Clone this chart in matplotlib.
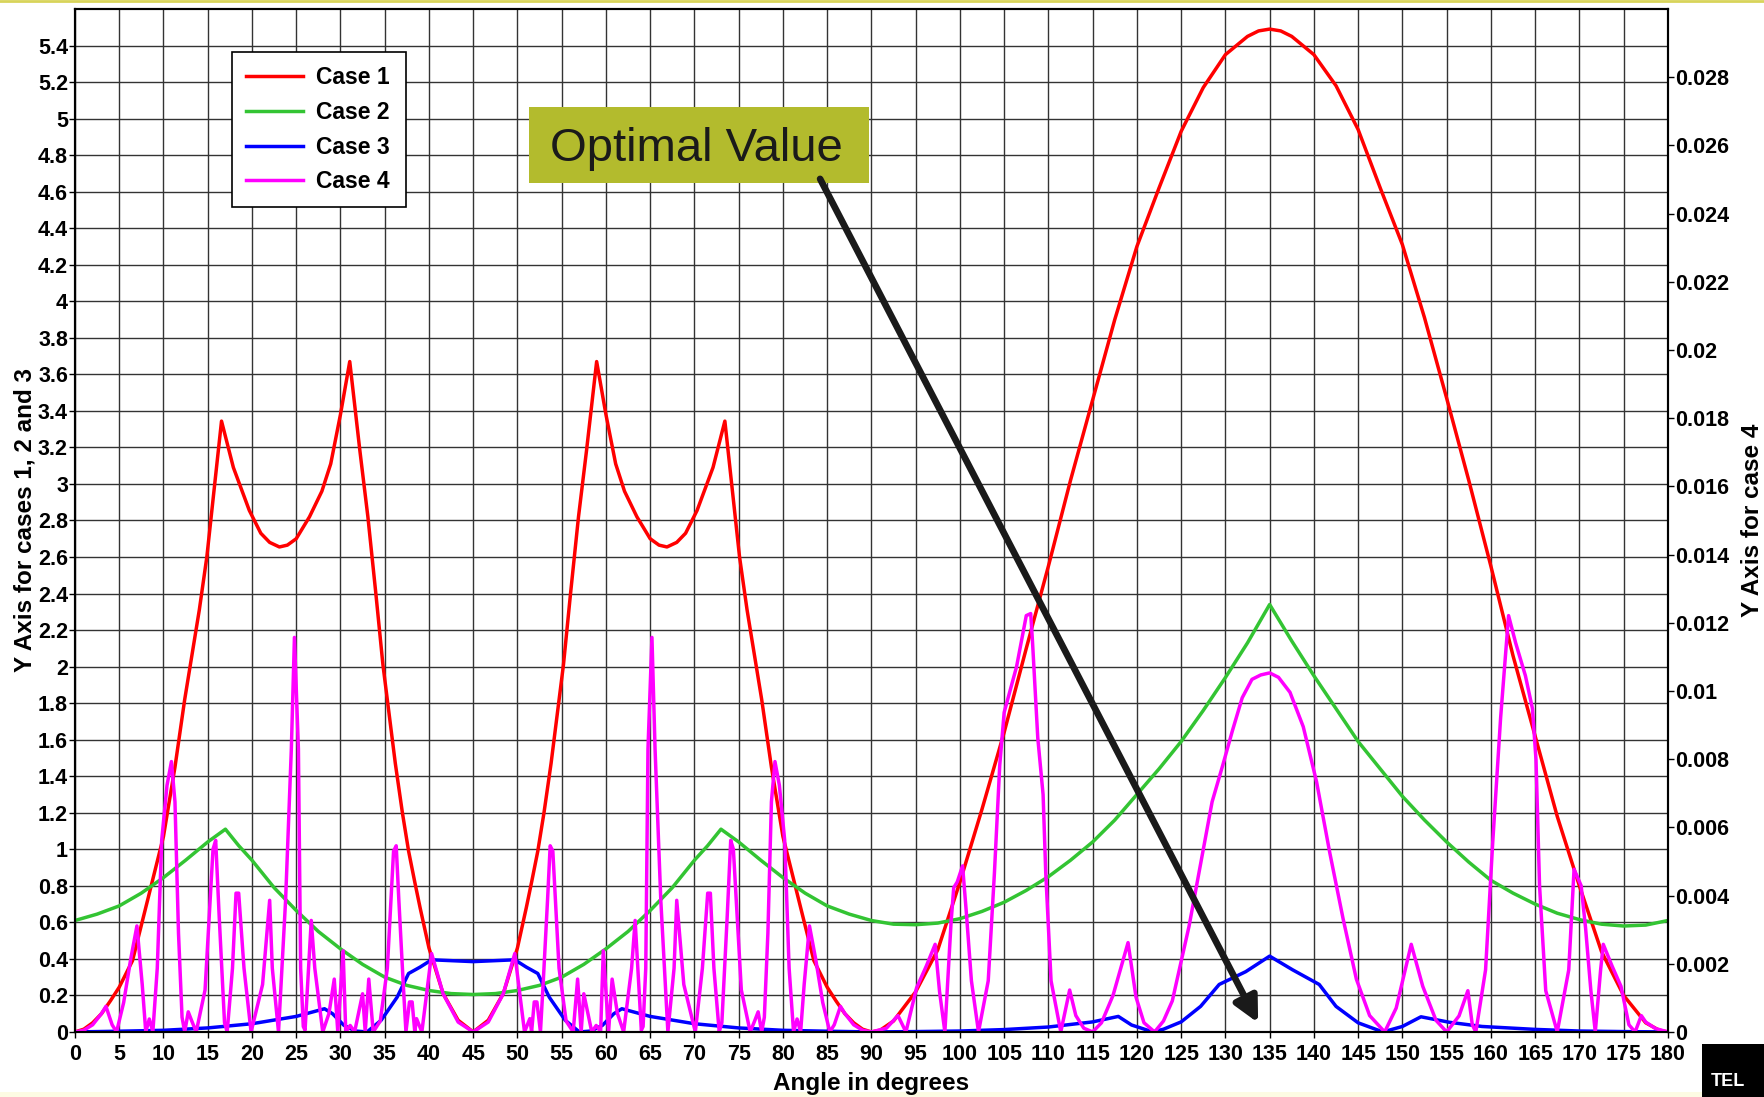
import numpy as np
import matplotlib
matplotlib.use("Agg")
import matplotlib.pyplot as plt
from matplotlib.patches import Rectangle
from matplotlib.lines import Line2D
from matplotlib.ticker import FuncFormatter

# values (angle in degrees, value)
case1_x = [0, 1, 2, 3, 4, 5, 6.5, 8.2, 10, 11.3, 12.4, 14.05, 14.9, 16.56, 17.9, 19.7, 21, 22, 23.1, 24, 25,
           26.5, 27.9, 28.9, 30, 31.05, 32.2, 33.1, 34, 34.8, 35.5, 36.2, 37.0, 37.7, 38.4, 39, 40, 41.6, 43.3, 45,
           46.7, 48.4, 50, 51, 51.6, 52.3, 53, 53.8, 54.5, 55.2, 56, 56.9, 57.8, 58.95, 60, 61.1, 62.1, 63.5, 65,
           66, 66.9, 68, 69, 70.3, 72.1, 73.44, 75.1, 75.95, 77.6, 78.7, 80, 81.8, 83.5, 85, 86, 87, 88, 89,
           90, 91, 92.5, 95, 97.5, 100, 102.5, 105, 107.5, 110, 112.5, 115, 117.5, 120, 122.5, 125, 127.5,
           130, 132.5, 133.75, 135, 136.25, 137.5, 140, 142.5, 145, 147.5, 150, 152.5, 155, 157.5, 160, 162.5,
           165, 167.5, 170, 172.5, 175, 177.5, 179, 180]
case1_y = [0, 0.015, 0.05, 0.1, 0.17, 0.245, 0.39, 0.72, 1.07, 1.45, 1.82, 2.31, 2.6, 3.344, 3.09, 2.855, 2.73, 2.68, 2.655, 2.665, 2.70,
           2.82, 2.96, 3.11, 3.38, 3.67, 3.18, 2.82, 2.40, 2.01, 1.74, 1.47, 1.2, 0.99, 0.82, 0.68, 0.46, 0.21, 0.064, 0,
           0.064, 0.21, 0.46, 0.68, 0.82, 0.99, 1.2, 1.47, 1.74, 2.01, 2.40, 2.82, 3.18, 3.67, 3.38, 3.11, 2.96, 2.82, 2.70,
           2.665, 2.655, 2.68, 2.73, 2.855, 3.09, 3.344, 2.6, 2.31, 1.82, 1.45, 1.07, 0.72, 0.39, 0.245, 0.17, 0.1, 0.05, 0.015,
           0, 0.01, 0.06, 0.22, 0.45, 0.82, 1.22, 1.64, 2.1, 2.55, 3.02, 3.46, 3.9, 4.3, 4.62, 4.93, 5.17,
           5.35, 5.45, 5.48, 5.49, 5.48, 5.45, 5.35, 5.18, 4.94, 4.62, 4.31, 3.91, 3.47, 3.02, 2.55, 2.06,
           1.62, 1.18, 0.8, 0.44, 0.2, 0.05, 0.01, 0]

case2_x = [0, 2.5, 5, 7.5, 10, 12.5, 15, 17, 18.5, 20, 22.5, 25, 27.5, 30, 32.5, 35, 37.5, 40, 42.5, 45,
           47.5, 50, 52.5, 55, 57.5, 60, 62.5, 65, 67.5, 70, 71.5, 73, 75, 77.5, 80, 82.5, 85, 87.5, 90,
           92.5, 95, 97.5, 100, 102.5, 105, 107.5, 110, 112.5, 115, 117.5, 120, 122.5, 125, 127.5, 130, 132.5,
           135, 137.5, 140, 142.5, 145, 147.5, 150, 152.5, 155, 157.5, 160, 162.5, 165, 167.5, 170, 172.5,
           175, 177.5, 180]
case2_y = [0.61, 0.645, 0.69, 0.76, 0.845, 0.94, 1.04, 1.11, 1.02, 0.94, 0.79, 0.665, 0.55, 0.455, 0.37, 0.30, 0.255, 0.227, 0.21, 0.205,
           0.21, 0.227, 0.255, 0.30, 0.37, 0.455, 0.55, 0.665, 0.79, 0.94, 1.02, 1.11, 1.04, 0.94, 0.845, 0.76, 0.69, 0.645, 0.61,
           0.59, 0.587, 0.596, 0.62, 0.66, 0.71, 0.775, 0.85, 0.94, 1.04, 1.16, 1.3, 1.44, 1.59, 1.76, 1.94, 2.13,
           2.34, 2.14, 1.95, 1.77, 1.59, 1.44, 1.29, 1.16, 1.04, 0.93, 0.83, 0.76, 0.70, 0.65, 0.615, 0.59,
           0.58, 0.585, 0.61]

case3_x = [0, 5, 10, 15, 20, 25, 28.2, 29.1, 30.4, 31.7, 33, 34.6, 36.4, 37.7, 39, 40.3, 45, 49.7, 51, 52.3,
           53.6, 55.4, 57, 58.3, 59.6, 60.9, 61.8, 65, 70, 75, 80, 85, 90, 95, 100, 105, 110, 115, 117.9,
           119.4, 121.8, 123, 125, 127.2, 129.3, 132.3, 135, 137.6, 140.6, 142.5, 145, 147.8, 150, 152.1,
           155.3, 159, 165, 170, 175, 180]
case3_y = [0, 0.004, 0.009, 0.022, 0.045, 0.085, 0.127, 0.10, 0.036, 0.005, 0, 0.064, 0.19, 0.32, 0.355, 0.395, 0.385, 0.395, 0.355, 0.32,
           0.19, 0.064, 0, 0.005, 0.036, 0.10, 0.127, 0.085, 0.045, 0.022, 0.009, 0.004, 0, 0.002, 0.005, 0.013, 0.027, 0.055, 0.085,
           0.038, 0, 0.015, 0.055, 0.14, 0.26, 0.33, 0.415, 0.34, 0.26, 0.14, 0.05, 0, 0.03, 0.083,
           0.053, 0.03, 0.014, 0.005, 0.002, 0]

# case 4 is read on the right hand axis
case4_x = [0, 1, 2, 3, 3.5, 4.2, 4.7, 5.5, 6.3, 7.0, 7.6, 8.0, 8.4, 8.8, 9.3, 9.8, 10.4, 10.9, 11.3, 11.7,
           12.1, 12.4, 12.8, 13.2, 13.7, 14.7, 15.6, 15.9, 16.3, 16.9, 17.2, 17.8, 18.2, 18.5, 19.1, 19.9,
           21.2, 22.0, 22.3, 23.0, 23.8, 24.45, 24.8, 25.25, 25.5, 25.8, 26.0, 26.4, 26.7, 27.1, 28.0, 28.7,
           29.3, 29.7, 30.3, 30.6, 31.1, 31.6, 32.5, 32.8, 33.2, 33.7, 34.5, 35.3, 36.0, 36.3, 36.6, 37.1,
           37.4, 37.8, 38.1, 38.4, 38.6, 39.2, 40.3, 41.6, 43.3, 45,
           46.7, 48.4, 49.7, 50.8, 51.4, 51.6, 51.9, 52.2, 52.6, 52.9, 53.4, 53.7, 54.0, 54.7, 55.5, 56.3,
           56.8, 57.2, 57.5, 58.4, 58.9, 59.4, 59.7, 60.3, 60.7, 61.3, 62.0, 62.9, 63.3, 63.6, 64.0, 64.2,
           64.5, 64.75, 65.2, 65.55, 66.2, 67.0, 67.7, 68.0, 68.8, 70.1, 70.9, 71.5, 71.8, 72.2, 72.8, 73.1,
           73.7, 74.1, 74.4, 75.3, 76.3, 76.8, 77.2, 77.6, 77.9, 78.3, 78.7, 79.1, 79.6, 80.2, 80.7, 81.2,
           81.6, 82.0, 82.4, 83.0, 83.7, 84.5, 85.3, 85.8, 86.5, 87.0, 88.0, 89.0, 90,
           91.7, 93.0, 93.3, 93.9, 95.1, 96.2, 97.2, 97.7, 98.3, 99.0, 99.3, 99.7, 100.3, 100.7, 101.3, 102.1,
           103.2, 103.9, 104.5, 105.0, 106.4, 107.5, 108.0, 108.2, 108.8, 109.4, 109.7, 110.3, 111.4, 112.4,
           113.1, 114.0, 115.0, 116.0, 117.3, 119.0, 119.9, 120.8, 122.0, 123.0, 124.0, 125.9, 127.4, 128.5,
           129.7, 130.8, 131.9, 133.0, 134.0, 135.0, 136.0, 137.3, 138.8, 140.3, 141.8, 143.3, 144.8, 146.3,
           148.0, 149.3, 151.0, 152.3, 153.8, 155.0, 156.4, 157.4, 157.9, 158.3, 159.4, 160.2, 161.1, 162.0,
           162.8, 163.9, 164.7, 165.1, 165.5, 166.2, 167.5, 168.8, 169.4, 170.2, 170.7, 171.3, 171.8, 172.4,
           172.7, 173.7, 174.7, 175.6, 176.3, 177.0, 177.5, 178.6, 180]
case4_y = [0, 0.00005, 0.00021, 0.00054, 0.00075, 0.00021, 0, 0.00086, 0.00214, 0.00311, 0.00139, 0, 0.00038, 0, 0.00187, 0.00562, 0.00723, 0.00793, 0.00675, 0.00289,
           0.00043, 0, 0.00059, 0.00032, 0, 0.00123, 0.00536, 0.00562, 0.00337, 0.00027, 0, 0.00187, 0.00407, 0.00407, 0.00187, 0,
           0.00139, 0.00386, 0.00187, 0, 0.00386, 0.0083, 0.01157, 0.0083, 0.00187, 0.00016, 0.00005, 0.00187, 0.00327, 0.00187, 0, 0.00054,
           0.00155, 0, 0.00238, 0, 0.00019, 0, 0.00112, 0, 0.00155, 0, 0.00032, 0.00187, 0.00530, 0.00546, 0.00386, 0.00139,
           0, 0.00088, 0.00088, 0, 0.00039, 0, 0.00230, 0.00112, 0.00029, 0,
           0.00029, 0.00112, 0.00230, 0, 0.00039, 0, 0.00088, 0.00088, 0, 0.00139, 0.00386, 0.00546, 0.00530, 0.00187, 0.00032, 0,
           0.00155, 0, 0.00112, 0, 0.00019, 0, 0.00238, 0, 0.00155, 0.00054, 0, 0.00187, 0.00327, 0.00187, 0.00005, 0.00016,
           0.00187, 0.0083, 0.01157, 0.0083, 0.00386, 0, 0.00187, 0.00386, 0.00139, 0, 0.00187, 0.00407, 0.00407, 0.00187, 0, 0.00027,
           0.00337, 0.00562, 0.00536, 0.00123, 0, 0.00032, 0.00059, 0, 0.00043, 0.00289, 0.00675, 0.00793, 0.00723, 0.00562, 0.00187, 0,
           0.00038, 0, 0.00139, 0.00311, 0.00214, 0.00086, 0, 0.00021, 0.00075, 0.00054, 0.00021, 0.00005, 0,
           0.00011, 0.00048, 0.00032, 0, 0.00129, 0.00193, 0.00257, 0.00118, 0, 0.00321, 0.00423, 0.00440, 0.00487, 0.00359, 0.00150, 0,
           0.00150, 0.00466, 0.00782, 0.00937, 0.01071, 0.01221, 0.01227, 0.01146, 0.00862, 0.00696, 0.00466, 0.00150, 0, 0.00123,
           0.00048, 0.00011, 0, 0.00027, 0.00107, 0.00262, 0.00102, 0.00027, 0, 0.00032, 0.00091, 0.00311, 0.00520, 0.00675,
           0.00782, 0.00884, 0.00980, 0.01034, 0.01047, 0.01053, 0.01040, 0.00996, 0.00895, 0.00734, 0.00525, 0.00332, 0.00155, 0.00048,
           0, 0.00070, 0.00257, 0.00134, 0.00034, 0, 0.00047, 0.00121, 0.00021, 0, 0.00182, 0.00552, 0.00921, 0.01221,
           0.01141, 0.01045, 0.00948, 0.00798, 0.00429, 0.00121, 0, 0.00182, 0.00477, 0.00429, 0.00305, 0.00121, 0, 0.00182,
           0.00257, 0.00193, 0.00134, 0.00021, 0, 0.00048, 0.00029, 0.00010, 0]

x_ticks = np.arange(0, 181, 5)
left_ticks = np.round(np.arange(0, 5.41, 0.2), 1)
right_ticks = np.round(np.arange(0, 0.0281, 0.002), 3)

plt.rcParams['font.family'] = ['Liberation Sans', 'DejaVu Sans']
plt.rcParams['font.weight'] = 'bold'
plt.rcParams['axes.labelweight'] = 'bold'

fig = plt.figure(figsize=(17.64, 10.97), dpi=100)
ax1 = fig.add_axes([0.0425, 0.0593, 0.903, 0.9325])
ax2 = ax1.twinx()

l1, = ax1.plot(case1_x, case1_y, color='#ff0000', lw=2.5, label='Case 1')
l2, = ax1.plot(case2_x, case2_y, color='#33c433', lw=2.5, label='Case 2')
l3, = ax1.plot(case3_x, case3_y, color='#0000ff', lw=2.5, label='Case 3')
l4, = ax2.plot(case4_x, case4_y, color='#ff00ff', lw=2.5, label='Case 4')

ax1.set_xlim(0, 180)
ax1.set_ylim(0, 5.6)
ax2.set_ylim(0, 0.03)
ax1.set_xticks(x_ticks)
ax1.set_yticks(left_ticks)
ax2.set_yticks(right_ticks)
fmt = FuncFormatter(lambda v, p: f"{round(v, 4):g}")
ax1.yaxis.set_major_formatter(fmt)
ax2.yaxis.set_major_formatter(fmt)

ax1.grid(True, color='#333333', lw=1.0)
ax1.set_axisbelow(True)
ax1.tick_params(axis='x', direction='out', length=4, width=1, labelsize=15.5, pad=5)
ax1.tick_params(axis='y', direction='out', length=4, width=1, labelsize=15.5, pad=1)
ax2.tick_params(axis='y', direction='out', length=4, width=1, labelsize=15.5, pad=1.5)
for ax in (ax1, ax2):
    for s in ax.spines.values():
        s.set_linewidth(1.5)
        s.set_color('black')

ax1.set_xlabel('Angle in degrees', fontsize=17.5, fontweight='bold', labelpad=5)
ax1.set_ylabel('Y Axis for cases 1, 2 and 3', fontsize=17.5, fontweight='bold', labelpad=1)
ax2.set_ylabel('Y Axis for case 4', fontsize=17.5, fontweight='bold', labelpad=8.5)

leg = ax2.legend([l1, l2, l3, l4], ['Case 1', 'Case 2', 'Case 3', 'Case 4'],
                 loc='upper left', bbox_to_anchor=(0.0986, 0.808, 0.1092, 0.15), mode='expand',
                 borderaxespad=0, fancybox=False, edgecolor='black', framealpha=1,
                 prop=dict(weight='bold', size=16.5), handlelength=2.5,
                 handletextpad=0.55, labelspacing=0.52, borderpad=0.6)
leg.get_frame().set_linewidth(1.2)

# "Optimal Value" call-out
ax2.add_patch(Rectangle((0.285, 0.8299), 0.2134, 0.0743, transform=ax2.transAxes,
                        facecolor='#b3bb2d', edgecolor='none', zorder=5))
ax2.text(0.3901, 0.8627, 'Optimal Value', transform=ax2.transAxes, ha='center', va='center',
         fontsize=34, fontweight='normal', color='#1a1a1a', zorder=6)
ax2.annotate('', xy=(133.7, 0.05), xycoords=ax1.transData,
             xytext=(84.2, 4.67), textcoords=ax1.transData,
             arrowprops=dict(arrowstyle='-|>,head_length=0.5,head_width=0.25', color='#1a1a1a',
                             lw=4.8, mutation_scale=30, shrinkA=0, shrinkB=0), zorder=7)

# page decorations
fig.add_artist(Line2D([0, 1], [0.999, 0.999], color='#d8d45a', lw=2))
fig.add_artist(Rectangle((0, 0), 1, 0.005, facecolor='#fdfbe3', edgecolor='none', zorder=-5))
fig.add_artist(Rectangle((0.9649, 0), 0.0351, 0.0483, facecolor='black', edgecolor='none'))
fig.text(0.970, 0.006, 'TEL', color='white', fontsize=13, ha='left', va='bottom')

fig.savefig('out.png', dpi=100)
